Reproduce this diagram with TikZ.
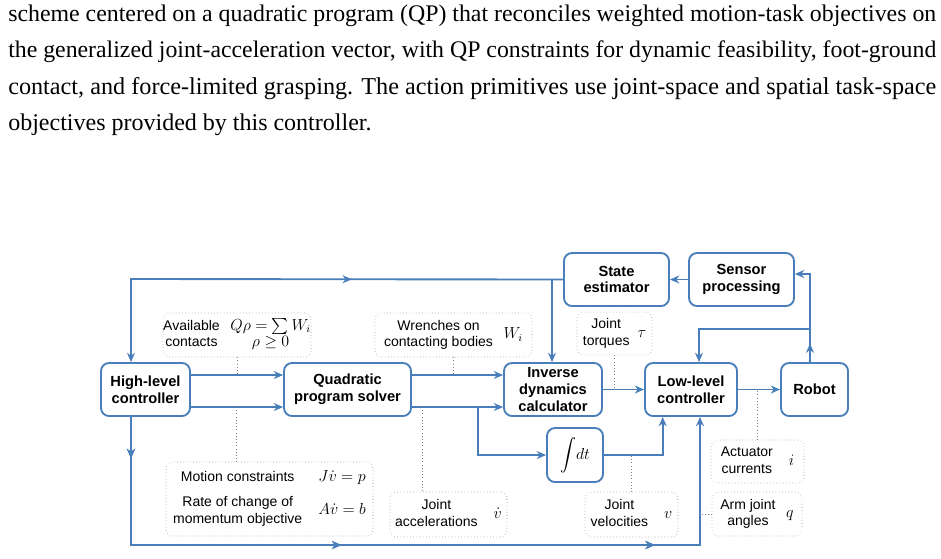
\documentclass[tikz,border=0pt]{standalone}
\usepackage{fontspec}
\setmainfont{Liberation Serif}
\setsansfont{Liberation Sans}
\usepackage{amsmath}
\usetikzlibrary{arrows.meta,positioning,decorations.markings,calc}
\definecolor{qpblue}{RGB}{74,126,187}

\newcommand{\notetxt}[3][10pt]{\begin{tabular}{@{}c@{\hspace{#1}}c@{}}%
  \begin{tabular}{@{}c@{}}#2\end{tabular} & \large$#3$\end{tabular}}

\tikzset{
  blk/.style={draw=qpblue, line width=1.4pt, rounded corners=6pt, fill=white,
    font=\sffamily\bfseries\fontsize{11}{12.5}\selectfont, align=center, inner sep=0pt,
    minimum height=39.75pt},
  note/.style={draw=gray, dotted, rounded corners=5pt, inner sep=0pt,
    font=\sffamily\fontsize{10.5}{12.5}\selectfont},
  flow/.style={draw=qpblue, line width=1.4pt, -{Stealth[length=7pt,width=6pt]}},
  link/.style={draw=qpblue, line width=1.4pt},
  tie/.style={draw=gray, dotted, thin},
  mid/.style={postaction={decorate}, decoration={markings,
    mark=at position #1 with {\arrow[qpblue]{Stealth[length=7pt,width=6pt]}}}},
  para/.style={anchor=base west, inner sep=0pt, font=\fontsize{18}{21}\selectfont}
}

\begin{document}
\begin{tikzpicture}[x=0.75pt, y=-0.75pt]
    \useasboundingbox (0,0) rectangle (941,558);

    % Caption text
    \foreach \yy/\txt in {21/{scheme centered on a quadratic program (QP) that reconciles weighted motion-task objectives on},
        57/{the generalized joint-acceleration vector, with QP constraints for dynamic feasibility, foot-ground},
        94/{contact, and force-limited grasping. The action primitives use joint-space and spatial task-space}} {
        \node[para] at (8,\yy) {\resizebox{696pt}{!}{\txt}};
    }
    \node[para] at (8,130) {objectives provided by this controller.};

    % Blocks
    \node[blk, minimum width=66.75pt] (hlc) at (145.5,389.5) {High-level\\controller};
    \node[blk, minimum width=95.25pt] (qp) at (347.5,389.5) {Quadratic\\program solver};
    \node[blk, minimum width=73.5pt] (idc) at (553,389.5) {Inverse\\dynamics\\calculator};
    \node[blk, minimum width=69pt] (llc) at (691,389.5) {Low-level\\controller};
    \node[blk, minimum width=50.25pt] (robot) at (814.5,389.5) {Robot};
    \node[blk, minimum width=78.75pt] (state) at (616.5,279.5) {State\\estimator};
    \node[blk, minimum width=78.75pt] (sensor) at (741.5,279.5) {Sensor\\processing};
    \node[blk, minimum width=42pt, minimum height=40.5pt, font=\normalfont\large] (integ) at (575,455) {$\displaystyle\int\! dt$};

    % Helper coordinates
    \coordinate (lx) at (131,0);
    \coordinate (bx) at (477.7,0);
    \coordinate (vx) at (662.7,0);
    \coordinate (rx) at (699,0);

    % Signal flow
    \draw[flow] (hlc.east |- 0,375) -- (qp.west |- 0,375);
    \draw[flow] (hlc.east |- 0,407) -- (qp.west |- 0,407);
    \draw[flow] (qp.east |- 0,375) -- (idc.west |- 0,375);
    \draw[flow] (qp.east |- 0,407) -- (idc.west |- 0,407);
    \draw[flow] (bx |- 0,407) -- (bx |- 0,455) -- (integ.west);
    \draw[flow] (integ.east) -- (vx |- integ.east) -- (vx |- llc.south);
    \draw[flow] (idc.east) -- (llc.west);
    \draw[flow] (llc) -- (robot);
    \draw[flow] (sensor) -- (state);

    % Feedback loops
    \draw[link, mid=0.59, {Stealth[length=7pt,width=6pt]}-] (lx |- hlc.north) -- (131,279) -- (state.west);
    \draw[flow] (552,279) -- (552,0 |- idc.north);
    \draw[flow, mid=0.18] (robot.north -| 810,0) -- (810,274) -- (sensor.east |- 0,274);
    \draw[flow] (810,329) -- (rx |- 0,329) -- (rx |- llc.north);
    \draw[flow, mid=0.05, mid=0.41, mid=0.79] (lx |- hlc.south) -- (131,545) -- (700,545) -- (700,0 |- llc.south);

    % Annotations
    \node[note, minimum width=111pt, minimum height=33pt] (contacts) at (237,335)
        {\begin{tabular}{@{}c@{\hspace{8pt}}c@{}}Available & \large$Q\rho=\sum W_i$\\ contacts & \large$\rho\geq 0$\end{tabular}};
    \node[note, minimum width=117.75pt, minimum height=33pt] (wrench) at (453.5,335)
        {\notetxt[8pt]{Wrenches on\\contacting bodies}{W_i}};
    \node[note, minimum width=56.25pt, minimum height=32pt] (torque) at (614.5,333.5)
        {\notetxt[6pt]{Joint\\torques}{\tau}};
    \node[note, minimum width=155.25pt, minimum height=55.5pt] (motion) at (269.5,499)
        {\begin{tabular}{@{}c@{\hspace{12pt}}c@{}}Motion constraints & \large$J\dot{v}=p$\\[6pt]
         \begin{tabular}{@{}c@{}}Rate of change of\\ momentum objective\end{tabular} & \large$A\dot{v}=b$\end{tabular}};
    \node[note, minimum width=87.75pt, minimum height=33.75pt] (accel) at (448.5,514.5)
        {\notetxt[12pt]{Joint\\accelerations}{\dot{v}}};
    \node[note, minimum width=69.75pt, minimum height=33.75pt] (veloc) at (631.5,514.5)
        {\notetxt[12pt]{Joint\\velocities}{v}};
    \node[note, minimum width=69.75pt, minimum height=32.25pt] (current) at (757.5,461.5)
        {\notetxt[12pt]{Actuator\\currents}{i}};
    \node[note, minimum width=67.5pt, minimum height=33pt] (angles) at (757,514)
        {\notetxt[8pt]{Arm joint\\angles}{q}};

    % Dotted ties
    \draw[tie] (contacts.south -| 237,0) -- (237,375);
    \draw[tie] (wrench.south) -- (453.5,375);
    \draw[tie] (torque.south) -- (614.5,389);
    \draw[tie] (236,407) -- (236,0 |- motion.north);
    \draw[tie] (422,407) -- (422,0 |- accel.north);
    \draw[tie] (veloc.north) -- (631.5,455);
    \draw[tie] (current.north) -- (757.5,389);
    \draw[tie] (angles.west) -- (700,514);
\end{tikzpicture}
\end{document}
